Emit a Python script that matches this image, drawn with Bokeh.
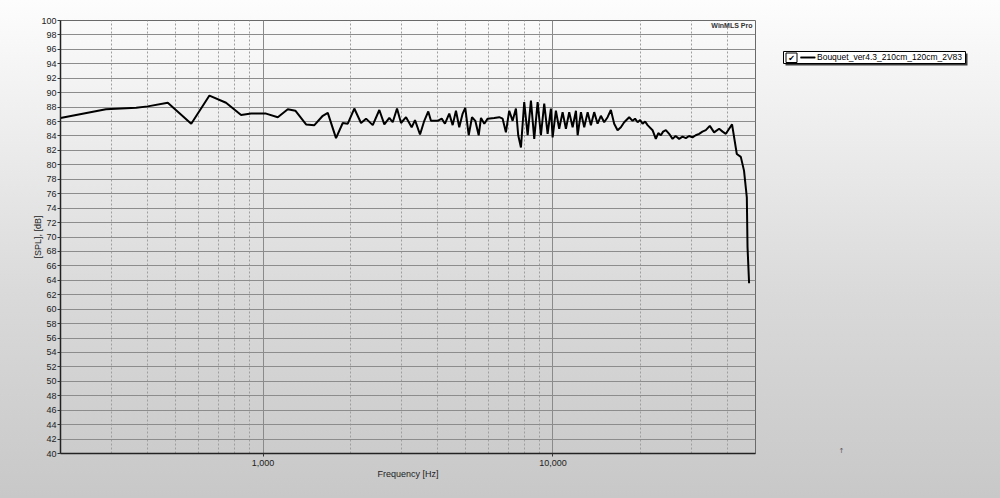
from bokeh.plotting import figure
from bokeh.layouts import row
from bokeh.core.properties import value
from bokeh.models import (Range1d, FixedTicker, NumeralTickFormatter, Legend, LegendItem,
                          Label, InlineStyleSheet)
from bokeh.embed import file_html
from bokeh.resources import INLINE

# ---- data ----
freq_hz = [200, 287, 365, 400, 469, 565, 653, 745, 840, 909,
           1024, 1124, 1217, 1292, 1407, 1503, 1607, 1672, 1785, 1883,
           1960, 2064, 2177, 2266, 2390, 2518, 2620, 2726, 2801, 2898,
           2992, 3113, 3256, 3343, 3479, 3599, 3715, 3795, 4004, 4133,
           4242, 4389, 4509, 4629, 4752, 4882, 4984, 5122, 5258, 5398,
           5545, 5647, 5797, 5955, 6274, 6528, 6707, 6884, 7067, 7261,
           7454, 7591, 7757, 7962, 8181, 8398, 8621, 8856, 9091, 9333,
           9588, 9842, 9977, 10240, 10512, 10800, 11088, 11383, 11695, 12006,
           12170, 12493, 12824, 13177, 13521, 13880, 14260, 14638, 15028, 15438,
           15849, 16270, 16715, 17160, 17616, 18330, 18830, 19200, 19600, 20000,
           20390, 20800, 21210, 22070, 22650, 23100, 23570, 24000, 24530, 25180,
           25870, 26500, 27260, 28000, 28750, 29500, 30310, 31100, 31950, 32800,
           33690, 34780, 35990, 37450, 38500, 39500, 40400, 41500, 43100, 44490,
           45640, 46670, 46930, 47520]
spl_db = [86.5, 87.7, 87.9, 88.1, 88.6, 85.7, 89.6, 88.6, 86.9, 87.1,
          87.1, 86.6, 87.7, 87.5, 85.6, 85.5, 86.8, 87.2, 83.7, 85.8,
          85.7, 87.8, 85.8, 86.4, 85.5, 87.6, 85.6, 86.5, 85.9, 87.8,
          85.8, 86.6, 85.2, 86.2, 84.2, 86.1, 87.4, 86.1, 86.1, 86.4,
          85.7, 87.1, 85.5, 87.5, 85.2, 87.1, 87.9, 84.1, 86.6, 86.1,
          84.1, 86.5, 85.7, 86.4, 86.5, 86.6, 86.4, 84.5, 87.5, 86.1,
          87.8, 84.1, 82.4, 88.7, 84.1, 88.9, 83.6, 88.7, 84.1, 88.5,
          84.3, 87.8, 83.8, 87.5, 85.0, 87.3, 85.0, 87.3, 85.2, 87.5,
          84.1, 87.3, 85.2, 87.3, 85.5, 87.3, 85.7, 86.8, 85.9, 86.6,
          87.6, 85.7, 84.8, 85.2, 85.9, 86.6, 86.1, 86.4, 85.9, 86.2,
          85.7, 86.0, 85.5, 84.8, 83.6, 84.4, 84.1, 84.6, 84.8, 84.3,
          83.6, 84.0, 83.6, 83.9, 83.7, 84.0, 83.8, 84.1, 84.3, 84.6,
          84.8, 85.4, 84.5, 85.0, 84.6, 84.3, 84.9, 85.6, 81.5, 81.1,
          79.2, 75.5, 68.6, 63.6]
series_name = "Bouquet_ver4.3_210cm_120cm_2V83"
x_major_ticks = [1000, 10000]
x_minor_ticks = [200, 300, 400, 500, 600, 700, 800, 900,
                 2000, 3000, 4000, 5000, 6000, 7000, 8000, 9000,
                 20000, 30000, 40000]
y_ticks = list(range(40, 101, 2))
x_title = "Frequency [Hz]"
y_title = "[SPL], [dB]"
brand = "WinMLS Pro"

FONT = "Liberation Sans"
H = 498
FRAME_TOP, FRAME_BOTTOM = 20, 453
BG = InlineStyleSheet(css=":host { background: linear-gradient(to bottom, #fdfdfd 0%, "
                          "#eeeeee 25%, #d9d9d9 60%, #c8c8c8 100%); }")

# ---------------- main chart ----------------
p = figure(width=756, height=H, x_axis_type="log",
           x_range=Range1d(200, 50000), y_range=Range1d(40, 100),
           output_backend="svg", toolbar_location=None,
           min_border_left=60, min_border_right=1,
           min_border_top=FRAME_TOP, min_border_bottom=H - FRAME_BOTTOM)
p.stylesheets = [BG]
p.border_fill_alpha = 0
p.background_fill_alpha = 0
p.outline_line_color = "#6a6a6a"
p.outline_line_width = 1

xa = p.xaxis[0]
xa.ticker = FixedTicker(ticks=x_major_ticks, minor_ticks=x_minor_ticks)
xa.formatter = NumeralTickFormatter(format="0,0")
xa.axis_label = x_title
ya = p.yaxis[0]
ya.ticker = FixedTicker(ticks=y_ticks)
ya.axis_label = y_title
for ax in (xa, ya):
    ax.major_label_text_font = FONT
    ax.major_label_text_font_size = "9px"
    ax.major_label_text_color = "#222222"
    ax.axis_label_text_font = FONT
    ax.axis_label_text_font_size = "9px"
    ax.axis_label_text_font_style = "normal"
    ax.axis_label_text_color = "#222222"
    ax.minor_tick_line_color = None
    ax.major_tick_in = 0
    ax.major_tick_out = 3
    ax.major_tick_line_color = "#333333"
    ax.axis_line_color = "#222222"
    ax.axis_line_width = 1.5
xa.major_label_standoff = 2
xa.axis_label_standoff = 0
ya.major_label_standoff = 1
ya.axis_label_standoff = -5

p.xgrid.grid_line_color = "#8a8a8a"
p.xgrid.grid_line_width = 1
p.xgrid.minor_grid_line_color = "#9e9e9e"
p.xgrid.minor_grid_line_dash = "2 2"
p.xgrid.minor_grid_line_width = 1
p.ygrid.grid_line_color = "#8c8c8c"
p.ygrid.grid_line_width = 1

r = p.line(freq_hz, spl_db, line_color="black", line_width=2)

p.add_layout(Label(x=50000, y=100, text=brand, text_align="right", text_baseline="top",
                   x_offset=-3, y_offset=-1, text_font=FONT, text_font_size="7px",
                   text_font_style="bold", text_color="#333333"))

# ---------------- side panel with the legend ----------------
# its frame is aligned with the main frame, so its y range runs over the same page rows
SW = 1000 - 756
s = figure(width=SW, height=H, x_range=Range1d(0, SW),
           y_range=Range1d(FRAME_BOTTOM, FRAME_TOP),
           output_backend="svg", toolbar_location=None,
           min_border_left=0, min_border_right=0,
           min_border_top=FRAME_TOP, min_border_bottom=H - FRAME_BOTTOM)
s.stylesheets = [BG]
s.border_fill_alpha = 0
s.background_fill_alpha = 0
s.outline_line_color = None
s.axis.visible = False
s.grid.visible = False

# legend box with its drop shadow, check box and series line
s.quad(left=[29], right=[211], top=[53], bottom=[65], fill_color="#3c3c3c", line_color=None)
s.quad(left=[27], right=[209], top=[51], bottom=[63], fill_color="white",
       line_color="black", line_width=1)
s.quad(left=[29.5], right=[40.5], top=[52.5], bottom=[62], fill_color="white",
       line_color="black", line_width=1)
s.text(x=[35], y=[57.5], text=["\u2714"], text_font=value("DejaVu Sans"),
       text_font_size="8px", text_align="center", text_baseline="middle",
       text_color="black")
legend_line = s.line(x=[44, 59], y=[57, 57], line_color="black", line_width=1.6)

legend = Legend(items=[LegendItem(label=series_name, renderers=[legend_line])],
                location=(44, FRAME_BOTTOM - 51 - 12), border_line_color=None,
                background_fill_alpha=0, padding=0, margin=0,
                glyph_width=15, glyph_height=12, label_height=12,
                label_standoff=2, label_text_font=FONT, label_text_font_size="8.5px",
                label_text_color="black")
s.add_layout(legend)

s.add_layout(Label(x=85, y=450, text="\u2191", text_font="DejaVu Sans",
                   text_font_size="7px", text_color="#555555", text_baseline="middle",
                   text_align="center"))

layout = row(p, s, spacing=0)
open("out.html", "w").write(file_html(layout, INLINE))
